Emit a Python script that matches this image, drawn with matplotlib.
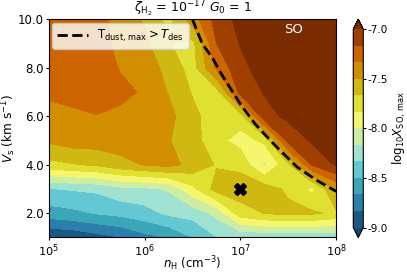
import numpy as np
import matplotlib
matplotlib.use("Agg")
import matplotlib.pyplot as plt
from matplotlib.colors import ListedColormap, BoundaryNorm
from matplotlib.ticker import FixedLocator, FuncFormatter, NullLocator

# ---- data ----
log_nH = [5.0, 5.25, 5.5, 5.75, 6.0, 6.25, 6.5, 6.75, 7.0, 7.25, 7.5, 7.75, 8.0]
Vs = [1, 2, 3, 4, 5, 6, 7, 8, 9, 10]
logX_SO = [
    [-8.99, -8.97, -8.90, -8.84, -8.72, -8.66, -8.50, -8.34, -8.31, -8.30, -8.30, -8.30, -8.30],  # Vs=1
    [-8.58, -8.54, -8.49, -8.45, -8.40, -8.30, -8.27, -8.12, -7.74, -7.66, -7.62, -7.64, -7.70],  # Vs=2
    [-8.34, -8.32, -8.30, -8.22, -8.20, -8.15, -7.88, -7.60, -7.58, -7.58, -7.70, -7.88, -7.48],  # Vs=3
    [-7.72, -7.68, -7.64, -7.55, -7.49, -7.45, -7.55, -7.68, -7.71, -8.04, -7.70, -7.15, -6.98],  # Vs=4
    [-7.47, -7.42, -7.42, -7.42, -7.42, -7.49, -7.60, -7.78, -7.90, -7.80, -7.10, -6.98, -6.92],  # Vs=5
    [-7.40, -7.37, -7.34, -7.38, -7.38, -7.45, -7.62, -7.76, -7.75, -7.05, -6.97, -6.90, -6.85],  # Vs=6
    [-7.30, -7.27, -7.25, -7.28, -7.36, -7.51, -7.68, -7.75, -7.10, -6.99, -6.92, -6.85, -6.80],  # Vs=7
    [-7.25, -7.22, -7.22, -7.35, -7.40, -7.56, -7.74, -7.30, -7.05, -6.92, -6.85, -6.80, -6.75],  # Vs=8
    [-7.25, -7.22, -7.24, -7.40, -7.46, -7.66, -7.72, -7.17, -6.99, -6.88, -6.82, -6.78, -6.72],  # Vs=9
    [-7.28, -7.25, -7.27, -7.40, -7.52, -7.72, -7.42, -7.10, -6.95, -6.85, -6.80, -6.75, -6.70],  # Vs=10
]
# T_dust,max = T_des boundary (dashed)
tdes_log_nH = [6.50, 6.60, 6.71, 6.80, 6.92, 7.00, 7.15, 7.24, 7.40, 7.59, 7.80, 8.00]
tdes_Vs = [10.0, 9.0, 8.4, 7.75, 7.0, 6.5, 5.7, 5.31, 4.65, 3.91, 3.35, 2.9]
# marked model
mark_log_nH = [7.0]
mark_Vs = [3.0]

levels = [-9.0, -8.8333, -8.6667, -8.5, -8.3333, -8.1667, -8.0,
          -7.8333, -7.6667, -7.5, -7.3333, -7.1667, -7.0]
cbar_ticks = [-9.0, -8.5, -8.0, -7.5, -7.0]
x_ticks = [5, 6, 7, 8]
y_ticks = [2.0, 4.0, 6.0, 8.0, 10.0]

band_colors = ['#1a5a82', '#2d7fab', '#3aa6b8', '#64c8d2', '#a0e2d2', '#cdeea2',
               '#f5f56e', '#e0e032', '#d0b812', '#d08e00', '#cc6400', '#a04000']

cmap = ListedColormap(band_colors)
cmap.set_under('#174a70')
cmap.set_over('#7a2c00')
norm = BoundaryNorm(levels, cmap.N)

fig = plt.figure(figsize=(4.07, 2.72), dpi=100)
ax = fig.add_axes([0.120, 0.127, 0.706, 0.802])
cax = fig.add_axes([0.868, 0.127, 0.0246, 0.802])

Xg, Yg = np.meshgrid(log_nH, Vs)
cf = ax.contourf(Xg, Yg, np.array(logX_SO), levels=levels, cmap=cmap, norm=norm,
                 extend='both')
ax.plot(tdes_log_nH, tdes_Vs, color='black', ls='--', lw=2,
        label=r'T$_{\rm dust,\,max}>T_{\rm des}$')
ax.plot(mark_log_nH, mark_Vs, marker='X', color='black', ms=9, ls='none')

ax.set_xlim(5, 8)
ax.set_ylim(1, 10)
ax.xaxis.set_major_locator(FixedLocator(x_ticks))
ax.xaxis.set_major_formatter(FuncFormatter(lambda v, p: r'$10^{%d}$' % int(round(v))))
ax.xaxis.set_minor_locator(NullLocator())
ax.yaxis.set_major_locator(FixedLocator(y_ticks))
ax.yaxis.set_major_formatter(FuncFormatter(lambda v, p: '%.1f' % v))
ax.tick_params(labelsize=8.5, length=2.5, pad=1.2)
ax.tick_params(axis='x', labelsize=8.2, pad=1.0)
ax.set_xlabel(r'$n_{\rm H}$ (cm$^{-3}$)', fontsize=8.5, labelpad=-3)
ax.set_ylabel(r'$V_{\rm s}$ (km s$^{-1}$)', fontsize=8.7, labelpad=0)
ax.set_title(r'$\zeta_{\rm H_2}$ = 10$^{-17}$ $G_0$ = 1', fontsize=9, pad=2)
ax.text(0.85, 0.955, 'SO', transform=ax.transAxes, color='white', fontsize=9.5,
        ha='center', va='center')
leg = ax.legend(loc='upper left', fontsize=8.5, framealpha=0.8, borderaxespad=0.3,
                handlelength=2.6, borderpad=0.4)

cb = fig.colorbar(cf, cax=cax, ticks=cbar_ticks)
cb.ax.yaxis.set_major_formatter(FuncFormatter(lambda v, p: '%.1f' % v))
cb.ax.tick_params(labelsize=7.5, length=2, pad=1)
cb.set_label(r'log$_{10}X_{\rm SO,\,max}$', fontsize=8.5, labelpad=2)
cb.ax.minorticks_off()

fig.savefig('out.png', dpi=100)
